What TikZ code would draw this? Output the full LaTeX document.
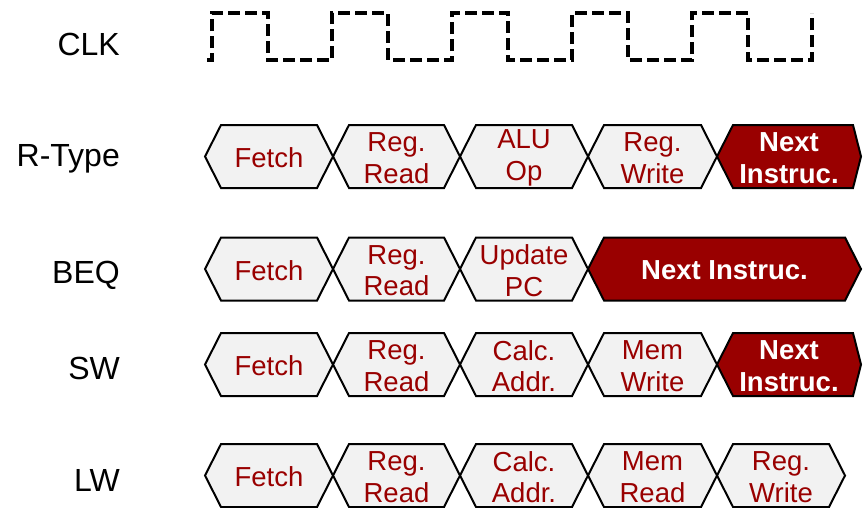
\documentclass[tikz,border=0pt]{standalone}
\usepackage{fontspec}
\setmainfont{Liberation Sans}
\usepackage{xcolor}
\usepackage{tikz}
\usetikzlibrary{calc, positioning}

\definecolor{darkred}{HTML}{990000}
\definecolor{hexgray}{HTML}{F2F2F2}

\tikzset{
    rowlabel/.style={font=\fontsize{32}{34}\selectfont, anchor=base east, inner sep=0pt},
    hexline/.style={draw=black, line width=2pt, line join=miter},
    stagebox/.style={hexline, fill=hexgray},
    nextbox/.style={hexline, fill=darkred},
    stagetext/.style={text=darkred, font=\fontsize{27.5}{31.5}\selectfont, align=center, inner sep=0pt},
    nexttext/.style={text=white, font=\bfseries\fontsize{27.5}{31.5}\selectfont, align=center, inner sep=0pt},
    clkline/.style={line width=3.5pt, dash pattern=on 12pt off 5pt}
}

% \stage{tên}{x trái}{x phải}{y}{kiểu}{nội dung}
\newcommand{\stage}[7][16]{%
    \draw[#6box] (#3,#5) -- ($(#3,#5)+(16,-31.5)$) -- ($(#4,#5)+(-#1,-31.5)$)
        -- (#4,#5) -- ($(#4,#5)+(-#1,31.5)$) -- ($(#3,#5)+(16,31.5)$) -- cycle;
    \node[#6text] (#2) at ($(#3,#5)!0.5!(#4,#5)+(0,1.5)$) {#7};
}

\begin{document}
\begin{tikzpicture}[x=1pt, y=-1pt]
    \useasboundingbox (0,0) rectangle (866,507);

    % Tên các dòng
    \node[rowlabel] (clk) at (120,55) {CLK};
    \node[rowlabel] (rtype) at (120,166.5) {R-Type};
    \node[rowlabel] (beq) at (120,283) {BEQ};
    \node[rowlabel] (sw) at (120,379.5) {SW};
    \node[rowlabel] (lw) at (120,491.5) {LW};

    % Xung nhịp
    \draw[clkline] (207,60) foreach \k in {0,...,4} {
        -- ({212+120*\k},60) -- ({212+120*\k},13)
        -- ({268+120*\k},13) -- ({268+120*\k},60)} -- (812,60) -- (812,13);

    % R-Type
    \stage{r1}{205}{333}{156.5}{stage}{Fetch}
    \stage{r2}{333}{460}{156.5}{stage}{Reg.\\Read}
    \stage{r3}{460}{588}{156.5}{stage}{ALU\\Op}
    \stage{r4}{588}{717}{156.5}{stage}{Reg.\\Write}
    \stage[8]{r5}{717}{861}{156.5}{next}{Next\\Instruc.}

    % BEQ
    \stage{b1}{205}{333}{269}{stage}{Fetch}
    \stage{b2}{333}{460}{269}{stage}{Reg.\\Read}
    \stage{b3}{460}{588}{269}{stage}{Update\\PC}
    \stage{b4}{588}{861}{269}{next}{Next Instruc.}

    % SW
    \stage{s1}{205}{333}{364.5}{stage}{Fetch}
    \stage{s2}{333}{460}{364.5}{stage}{Reg.\\Read}
    \stage{s3}{460}{588}{364.5}{stage}{Calc.\\Addr.}
    \stage{s4}{588}{717}{364.5}{stage}{Mem\\Write}
    \stage[8]{s5}{717}{861}{364.5}{next}{Next\\Instruc.}

    % LW
    \stage{l1}{205}{333}{475.5}{stage}{Fetch}
    \stage{l2}{333}{460}{475.5}{stage}{Reg.\\Read}
    \stage{l3}{460}{588}{475.5}{stage}{Calc.\\Addr.}
    \stage{l4}{588}{717}{475.5}{stage}{Mem\\Read}
    \stage{l5}{717}{845}{475.5}{stage}{Reg.\\Write}
\end{tikzpicture}
\end{document}
